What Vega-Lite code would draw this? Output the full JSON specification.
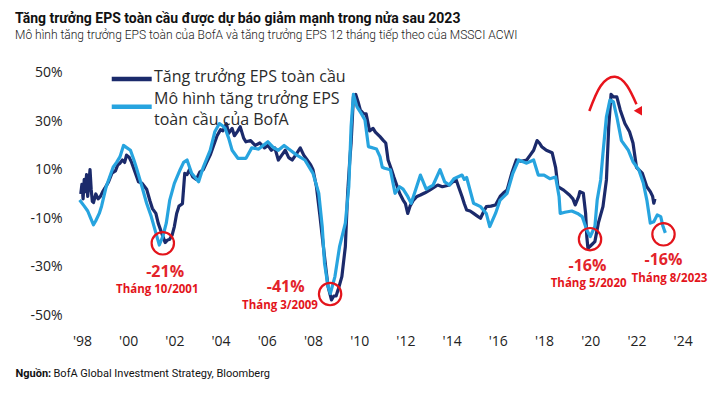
{
  "$schema": "https://vega.github.io/schema/vega-lite/v6.json",
  "width": 625,
  "height": 272,
  "autosize": {"type": "none"},
  "padding": {"left": 75, "top": 58, "right": 22, "bottom": 64},
  "background": "white",
  "title": {
    "text": "Tăng trưởng EPS toàn cầu được dự báo giảm mạnh trong nửa sau 2023",
    "subtitle": "Mô hình tăng trưởng EPS toàn của BofA và tăng trưởng EPS 12 tháng tiếp theo của MSSCI ACWI",
    "anchor": "start",
    "frame": "group",
    "dx": -60,
    "offset": 17,
    "font": "Roboto",
    "fontSize": 14,
    "fontWeight": "bold",
    "color": "#111",
    "subtitleFont": "Roboto",
    "subtitleFontSize": 12,
    "subtitleFontWeight": 300,
    "subtitleColor": "#1a1a1a",
    "subtitlePadding": 4
  },
  "config": {
    "view": {"stroke": null},
    "axis": {"grid": false, "domain": false, "ticks": false, "tickSize": 0}
  },
  "datasets": {
    "eps": [
      {"year": 1997.95, "value": 0, "series": "Tăng trưởng EPS toàn cầu"},
      {"year": 1998.0, "value": 4, "series": "Tăng trưởng EPS toàn cầu"},
      {"year": 1998.05, "value": -2, "series": "Tăng trưởng EPS toàn cầu"},
      {"year": 1998.1, "value": 6, "series": "Tăng trưởng EPS toàn cầu"},
      {"year": 1998.15, "value": 1, "series": "Tăng trưởng EPS toàn cầu"},
      {"year": 1998.2, "value": 8, "series": "Tăng trưởng EPS toàn cầu"},
      {"year": 1998.25, "value": -1, "series": "Tăng trưởng EPS toàn cầu"},
      {"year": 1998.35, "value": 10, "series": "Tăng trưởng EPS toàn cầu"},
      {"year": 1998.4, "value": 2, "series": "Tăng trưởng EPS toàn cầu"},
      {"year": 1998.45, "value": -3, "series": "Tăng trưởng EPS toàn cầu"},
      {"year": 1998.5, "value": -3.5, "series": "Tăng trưởng EPS toàn cầu"},
      {"year": 1998.6, "value": 0, "series": "Tăng trưởng EPS toàn cầu"},
      {"year": 1998.7, "value": -2, "series": "Tăng trưởng EPS toàn cầu"},
      {"year": 1998.8, "value": -1, "series": "Tăng trưởng EPS toàn cầu"},
      {"year": 1998.9, "value": 1, "series": "Tăng trưởng EPS toàn cầu"},
      {"year": 1999.0, "value": 2.5, "series": "Tăng trưởng EPS toàn cầu"},
      {"year": 1999.15, "value": 5, "series": "Tăng trưởng EPS toàn cầu"},
      {"year": 1999.3, "value": 8.6, "series": "Tăng trưởng EPS toàn cầu"},
      {"year": 1999.45, "value": 9.5, "series": "Tăng trưởng EPS toàn cầu"},
      {"year": 1999.55, "value": 12, "series": "Tăng trưởng EPS toàn cầu"},
      {"year": 1999.65, "value": 12.7, "series": "Tăng trưởng EPS toàn cầu"},
      {"year": 1999.75, "value": 14, "series": "Tăng trưởng EPS toàn cầu"},
      {"year": 1999.85, "value": 13, "series": "Tăng trưởng EPS toàn cầu"},
      {"year": 1999.93, "value": 16, "series": "Tăng trưởng EPS toàn cầu"},
      {"year": 2000.05, "value": 15, "series": "Tăng trưởng EPS toàn cầu"},
      {"year": 2000.15, "value": 13, "series": "Tăng trưởng EPS toàn cầu"},
      {"year": 2000.3, "value": 9, "series": "Tăng trưởng EPS toàn cầu"},
      {"year": 2000.45, "value": 5, "series": "Tăng trưởng EPS toàn cầu"},
      {"year": 2000.6, "value": 4.4, "series": "Tăng trưởng EPS toàn cầu"},
      {"year": 2000.8, "value": 2, "series": "Tăng trưởng EPS toàn cầu"},
      {"year": 2000.95, "value": -3, "series": "Tăng trưởng EPS toàn cầu"},
      {"year": 2001.05, "value": -6, "series": "Tăng trưởng EPS toàn cầu"},
      {"year": 2001.2, "value": -8, "series": "Tăng trưởng EPS toàn cầu"},
      {"year": 2001.3, "value": -12, "series": "Tăng trưởng EPS toàn cầu"},
      {"year": 2001.45, "value": -16, "series": "Tăng trưởng EPS toàn cầu"},
      {"year": 2001.6, "value": -20, "series": "Tăng trưởng EPS toàn cầu"},
      {"year": 2001.7, "value": -19, "series": "Tăng trưởng EPS toàn cầu"},
      {"year": 2001.8, "value": -18.6, "series": "Tăng trưởng EPS toàn cầu"},
      {"year": 2001.9, "value": -17, "series": "Tăng trưởng EPS toàn cầu"},
      {"year": 2002.0, "value": -13.4, "series": "Tăng trưởng EPS toàn cầu"},
      {"year": 2002.1, "value": -8, "series": "Tăng trưởng EPS toàn cầu"},
      {"year": 2002.2, "value": -5, "series": "Tăng trưởng EPS toàn cầu"},
      {"year": 2002.35, "value": -4, "series": "Tăng trưởng EPS toàn cầu"},
      {"year": 2002.45, "value": 8.5, "series": "Tăng trưởng EPS toàn cầu"},
      {"year": 2002.55, "value": 8, "series": "Tăng trưởng EPS toàn cầu"},
      {"year": 2002.65, "value": 10, "series": "Tăng trưởng EPS toàn cầu"},
      {"year": 2002.8, "value": 7, "series": "Tăng trưởng EPS toàn cầu"},
      {"year": 2002.95, "value": 6, "series": "Tăng trưởng EPS toàn cầu"},
      {"year": 2003.1, "value": 9, "series": "Tăng trưởng EPS toàn cầu"},
      {"year": 2003.25, "value": 10, "series": "Tăng trưởng EPS toàn cầu"},
      {"year": 2003.4, "value": 13, "series": "Tăng trưởng EPS toàn cầu"},
      {"year": 2003.55, "value": 16, "series": "Tăng trưởng EPS toàn cầu"},
      {"year": 2003.7, "value": 20, "series": "Tăng trưởng EPS toàn cầu"},
      {"year": 2003.85, "value": 24, "series": "Tăng trưởng EPS toàn cầu"},
      {"year": 2004.0, "value": 26.5, "series": "Tăng trưởng EPS toàn cầu"},
      {"year": 2004.1, "value": 26, "series": "Tăng trưởng EPS toàn cầu"},
      {"year": 2004.25, "value": 29, "series": "Tăng trưởng EPS toàn cầu"},
      {"year": 2004.35, "value": 25, "series": "Tăng trưởng EPS toàn cầu"},
      {"year": 2004.5, "value": 27, "series": "Tăng trưởng EPS toàn cầu"},
      {"year": 2004.6, "value": 24, "series": "Tăng trưởng EPS toàn cầu"},
      {"year": 2004.75, "value": 26, "series": "Tăng trưởng EPS toàn cầu"},
      {"year": 2004.85, "value": 27.7, "series": "Tăng trưởng EPS toàn cầu"},
      {"year": 2005.0, "value": 23, "series": "Tăng trưởng EPS toàn cầu"},
      {"year": 2005.1, "value": 21.5, "series": "Tăng trưởng EPS toàn cầu"},
      {"year": 2005.3, "value": 22, "series": "Tăng trưởng EPS toàn cầu"},
      {"year": 2005.5, "value": 20, "series": "Tăng trưởng EPS toàn cầu"},
      {"year": 2005.7, "value": 21, "series": "Tăng trưởng EPS toàn cầu"},
      {"year": 2005.9, "value": 19, "series": "Tăng trưởng EPS toàn cầu"},
      {"year": 2006.05, "value": 20, "series": "Tăng trưởng EPS toàn cầu"},
      {"year": 2006.2, "value": 18, "series": "Tăng trưởng EPS toàn cầu"},
      {"year": 2006.35, "value": 19, "series": "Tăng trưởng EPS toàn cầu"},
      {"year": 2006.5, "value": 14, "series": "Tăng trưởng EPS toàn cầu"},
      {"year": 2006.65, "value": 16, "series": "Tăng trưởng EPS toàn cầu"},
      {"year": 2006.8, "value": 18, "series": "Tăng trưởng EPS toàn cầu"},
      {"year": 2006.95, "value": 15, "series": "Tăng trưởng EPS toàn cầu"},
      {"year": 2007.1, "value": 14, "series": "Tăng trưởng EPS toàn cầu"},
      {"year": 2007.25, "value": 16, "series": "Tăng trưởng EPS toàn cầu"},
      {"year": 2007.45, "value": 19, "series": "Tăng trưởng EPS toàn cầu"},
      {"year": 2007.6, "value": 16, "series": "Tăng trưởng EPS toàn cầu"},
      {"year": 2007.75, "value": 14, "series": "Tăng trưởng EPS toàn cầu"},
      {"year": 2007.9, "value": 12, "series": "Tăng trưởng EPS toàn cầu"},
      {"year": 2008.0, "value": 10, "series": "Tăng trưởng EPS toàn cầu"},
      {"year": 2008.15, "value": 3, "series": "Tăng trưởng EPS toàn cầu"},
      {"year": 2008.3, "value": -9, "series": "Tăng trưởng EPS toàn cầu"},
      {"year": 2008.45, "value": -21.7, "series": "Tăng trưởng EPS toàn cầu"},
      {"year": 2008.55, "value": -30, "series": "Tăng trưởng EPS toàn cầu"},
      {"year": 2008.65, "value": -38, "series": "Tăng trưởng EPS toàn cầu"},
      {"year": 2008.8, "value": -43.6, "series": "Tăng trưởng EPS toàn cầu"},
      {"year": 2008.9, "value": -42, "series": "Tăng trưởng EPS toàn cầu"},
      {"year": 2009.0, "value": -42, "series": "Tăng trưởng EPS toàn cầu"},
      {"year": 2009.1, "value": -39, "series": "Tăng trưởng EPS toàn cầu"},
      {"year": 2009.25, "value": -34, "series": "Tăng trưởng EPS toàn cầu"},
      {"year": 2009.4, "value": -21.7, "series": "Tăng trưởng EPS toàn cầu"},
      {"year": 2009.5, "value": 0.3, "series": "Tăng trưởng EPS toàn cầu"},
      {"year": 2009.6, "value": 15, "series": "Tăng trưởng EPS toàn cầu"},
      {"year": 2009.65, "value": 21, "series": "Tăng trưởng EPS toàn cầu"},
      {"year": 2009.75, "value": 40, "series": "Tăng trưởng EPS toàn cầu"},
      {"year": 2009.85, "value": 41, "series": "Tăng trưởng EPS toàn cầu"},
      {"year": 2009.95, "value": 38, "series": "Tăng trưởng EPS toàn cầu"},
      {"year": 2010.05, "value": 34.5, "series": "Tăng trưởng EPS toàn cầu"},
      {"year": 2010.2, "value": 33, "series": "Tăng trưởng EPS toàn cầu"},
      {"year": 2010.3, "value": 33, "series": "Tăng trưởng EPS toàn cầu"},
      {"year": 2010.45, "value": 26, "series": "Tăng trưởng EPS toàn cầu"},
      {"year": 2010.6, "value": 27, "series": "Tăng trưởng EPS toàn cầu"},
      {"year": 2010.7, "value": 25.5, "series": "Tăng trưởng EPS toàn cầu"},
      {"year": 2010.9, "value": 23.6, "series": "Tăng trưởng EPS toàn cầu"},
      {"year": 2011.05, "value": 22, "series": "Tăng trưởng EPS toàn cầu"},
      {"year": 2011.15, "value": 21, "series": "Tăng trưởng EPS toàn cầu"},
      {"year": 2011.25, "value": 14, "series": "Tăng trưởng EPS toàn cầu"},
      {"year": 2011.4, "value": 10, "series": "Tăng trưởng EPS toàn cầu"},
      {"year": 2011.5, "value": 7, "series": "Tăng trưởng EPS toàn cầu"},
      {"year": 2011.65, "value": 3, "series": "Tăng trưởng EPS toàn cầu"},
      {"year": 2011.75, "value": 0.3, "series": "Tăng trưởng EPS toàn cầu"},
      {"year": 2011.9, "value": -2.5, "series": "Tăng trưởng EPS toàn cầu"},
      {"year": 2012.0, "value": -4, "series": "Tăng trưởng EPS toàn cầu"},
      {"year": 2012.1, "value": -8, "series": "Tăng trưởng EPS toàn cầu"},
      {"year": 2012.2, "value": -5, "series": "Tăng trưởng EPS toàn cầu"},
      {"year": 2012.35, "value": -2.5, "series": "Tăng trưởng EPS toàn cầu"},
      {"year": 2012.5, "value": -1, "series": "Tăng trưởng EPS toàn cầu"},
      {"year": 2012.65, "value": -0.4, "series": "Tăng trưởng EPS toàn cầu"},
      {"year": 2012.85, "value": 0.5, "series": "Tăng trưởng EPS toàn cầu"},
      {"year": 2013.05, "value": 1.6, "series": "Tăng trưởng EPS toàn cầu"},
      {"year": 2013.2, "value": 2.5, "series": "Tăng trưởng EPS toàn cầu"},
      {"year": 2013.4, "value": 3.7, "series": "Tăng trưởng EPS toàn cầu"},
      {"year": 2013.6, "value": 3, "series": "Tăng trưởng EPS toàn cầu"},
      {"year": 2013.9, "value": 3.7, "series": "Tăng trưởng EPS toàn cầu"},
      {"year": 2014.05, "value": 5, "series": "Tăng trưởng EPS toàn cầu"},
      {"year": 2014.2, "value": 5.8, "series": "Tăng trưởng EPS toàn cầu"},
      {"year": 2014.3, "value": 3, "series": "Tăng trưởng EPS toàn cầu"},
      {"year": 2014.45, "value": -1, "series": "Tăng trưởng EPS toàn cầu"},
      {"year": 2014.55, "value": -4, "series": "Tăng trưởng EPS toàn cầu"},
      {"year": 2014.65, "value": -6.6, "series": "Tăng trưởng EPS toàn cầu"},
      {"year": 2014.8, "value": -7, "series": "Tăng trưởng EPS toàn cầu"},
      {"year": 2014.95, "value": -8, "series": "Tăng trưởng EPS toàn cầu"},
      {"year": 2015.1, "value": -9, "series": "Tăng trưởng EPS toàn cầu"},
      {"year": 2015.25, "value": -10, "series": "Tăng trưởng EPS toàn cầu"},
      {"year": 2015.4, "value": -7, "series": "Tăng trưởng EPS toàn cầu"},
      {"year": 2015.5, "value": -5.2, "series": "Tăng trưởng EPS toàn cầu"},
      {"year": 2015.7, "value": -5, "series": "Tăng trưởng EPS toàn cầu"},
      {"year": 2015.9, "value": -4.5, "series": "Tăng trưởng EPS toàn cầu"},
      {"year": 2016.1, "value": -1, "series": "Tăng trưởng EPS toàn cầu"},
      {"year": 2016.25, "value": 0.5, "series": "Tăng trưởng EPS toàn cầu"},
      {"year": 2016.4, "value": 1.6, "series": "Tăng trưởng EPS toàn cầu"},
      {"year": 2016.6, "value": 8.5, "series": "Tăng trưởng EPS toàn cầu"},
      {"year": 2016.8, "value": 14, "series": "Tăng trưởng EPS toàn cầu"},
      {"year": 2017.0, "value": 13.5, "series": "Tăng trưởng EPS toàn cầu"},
      {"year": 2017.25, "value": 14, "series": "Tăng trưởng EPS toàn cầu"},
      {"year": 2017.4, "value": 16, "series": "Tăng trưởng EPS toàn cầu"},
      {"year": 2017.55, "value": 18, "series": "Tăng trưởng EPS toàn cầu"},
      {"year": 2017.7, "value": 22, "series": "Tăng trưởng EPS toàn cầu"},
      {"year": 2017.8, "value": 21, "series": "Tăng trưởng EPS toàn cầu"},
      {"year": 2017.9, "value": 19.5, "series": "Tăng trưởng EPS toàn cầu"},
      {"year": 2018.1, "value": 18, "series": "Tăng trưởng EPS toàn cầu"},
      {"year": 2018.35, "value": 17, "series": "Tăng trưởng EPS toàn cầu"},
      {"year": 2018.5, "value": 11, "series": "Tăng trưởng EPS toàn cầu"},
      {"year": 2018.6, "value": 3, "series": "Tăng trưởng EPS toàn cầu"},
      {"year": 2018.85, "value": 1.6, "series": "Tăng trưởng EPS toàn cầu"},
      {"year": 2019.1, "value": -0.4, "series": "Tăng trưởng EPS toàn cầu"},
      {"year": 2019.25, "value": -2, "series": "Tăng trưởng EPS toàn cầu"},
      {"year": 2019.35, "value": -4.5, "series": "Tăng trưởng EPS toàn cầu"},
      {"year": 2019.5, "value": -1, "series": "Tăng trưởng EPS toàn cầu"},
      {"year": 2019.55, "value": 1, "series": "Tăng trưởng EPS toàn cầu"},
      {"year": 2019.7, "value": 0.3, "series": "Tăng trưởng EPS toàn cầu"},
      {"year": 2019.8, "value": -8, "series": "Tăng trưởng EPS toàn cầu"},
      {"year": 2019.85, "value": -17.5, "series": "Tăng trưởng EPS toàn cầu"},
      {"year": 2019.9, "value": -22.4, "series": "Tăng trưởng EPS toàn cầu"},
      {"year": 2020.05, "value": -21, "series": "Tăng trưởng EPS toàn cầu"},
      {"year": 2020.2, "value": -19.6, "series": "Tăng trưởng EPS toàn cầu"},
      {"year": 2020.35, "value": -12, "series": "Tăng trưởng EPS toàn cầu"},
      {"year": 2020.55, "value": -5.2, "series": "Tăng trưởng EPS toàn cầu"},
      {"year": 2020.7, "value": 5.8, "series": "Tăng trưởng EPS toàn cầu"},
      {"year": 2020.8, "value": 27.7, "series": "Tăng trưởng EPS toàn cầu"},
      {"year": 2020.9, "value": 41, "series": "Tăng trưởng EPS toàn cầu"},
      {"year": 2021.0, "value": 40, "series": "Tăng trưởng EPS toàn cầu"},
      {"year": 2021.15, "value": 40, "series": "Tăng trưởng EPS toàn cầu"},
      {"year": 2021.3, "value": 34.5, "series": "Tăng trưởng EPS toàn cầu"},
      {"year": 2021.5, "value": 29, "series": "Tăng trưởng EPS toàn cầu"},
      {"year": 2021.7, "value": 25.6, "series": "Tăng trưởng EPS toàn cầu"},
      {"year": 2021.85, "value": 21, "series": "Tăng trưởng EPS toàn cầu"},
      {"year": 2022.0, "value": 11, "series": "Tăng trưởng EPS toàn cầu"},
      {"year": 2022.25, "value": 8.6, "series": "Tăng trưởng EPS toàn cầu"},
      {"year": 2022.45, "value": 3, "series": "Tăng trưởng EPS toàn cầu"},
      {"year": 2022.6, "value": 1, "series": "Tăng trưởng EPS toàn cầu"},
      {"year": 2022.7, "value": -1, "series": "Tăng trưởng EPS toàn cầu"},
      {"year": 2022.75, "value": -3.8, "series": "Tăng trưởng EPS toàn cầu"},
      {"year": 2022.8, "value": -2, "series": "Tăng trưởng EPS toàn cầu"},
      {"year": 1997.9, "value": -2.5, "series": "Mô hình tăng trưởng EPS toàn cầu của BofA"},
      {"year": 1998.1, "value": -5, "series": "Mô hình tăng trưởng EPS toàn cầu của BofA"},
      {"year": 1998.25, "value": -7, "series": "Mô hình tăng trưởng EPS toàn cầu của BofA"},
      {"year": 1998.35, "value": -9.3, "series": "Mô hình tăng trưởng EPS toàn cầu của BofA"},
      {"year": 1998.5, "value": -12.7, "series": "Mô hình tăng trưởng EPS toàn cầu của BofA"},
      {"year": 1998.6, "value": -11, "series": "Mô hình tăng trưởng EPS toàn cầu của BofA"},
      {"year": 1998.75, "value": -8, "series": "Mô hình tăng trưởng EPS toàn cầu của BofA"},
      {"year": 1998.85, "value": -5, "series": "Mô hình tăng trưởng EPS toàn cầu của BofA"},
      {"year": 1999.05, "value": 3, "series": "Mô hình tăng trưởng EPS toàn cầu của BofA"},
      {"year": 1999.2, "value": 7, "series": "Mô hình tăng trưởng EPS toàn cầu của BofA"},
      {"year": 1999.35, "value": 11, "series": "Mô hình tăng trưởng EPS toàn cầu của BofA"},
      {"year": 1999.5, "value": 13, "series": "Mô hình tăng trưởng EPS toàn cầu của BofA"},
      {"year": 1999.65, "value": 15.4, "series": "Mô hình tăng trưởng EPS toàn cầu của BofA"},
      {"year": 1999.8, "value": 20, "series": "Mô hình tăng trưởng EPS toàn cầu của BofA"},
      {"year": 1999.95, "value": 19, "series": "Mô hình tăng trưởng EPS toàn cầu của BofA"},
      {"year": 2000.1, "value": 18, "series": "Mô hình tăng trưởng EPS toàn cầu của BofA"},
      {"year": 2000.25, "value": 14, "series": "Mô hình tăng trưởng EPS toàn cầu của BofA"},
      {"year": 2000.35, "value": 11, "series": "Mô hình tăng trưởng EPS toàn cầu của BofA"},
      {"year": 2000.6, "value": 3, "series": "Mô hình tăng trưởng EPS toàn cầu của BofA"},
      {"year": 2000.8, "value": -3.8, "series": "Mô hình tăng trưởng EPS toàn cầu của BofA"},
      {"year": 2001.0, "value": -9.3, "series": "Mô hình tăng trưởng EPS toàn cầu của BofA"},
      {"year": 2001.2, "value": -16, "series": "Mô hình tăng trưởng EPS toàn cầu của BofA"},
      {"year": 2001.35, "value": -21, "series": "Mô hình tăng trưởng EPS toàn cầu của BofA"},
      {"year": 2001.5, "value": -17.5, "series": "Mô hình tăng trưởng EPS toàn cầu của BofA"},
      {"year": 2001.65, "value": -12, "series": "Mô hình tăng trưởng EPS toàn cầu của BofA"},
      {"year": 2001.8, "value": -2.5, "series": "Mô hình tăng trưởng EPS toàn cầu của BofA"},
      {"year": 2002.0, "value": 4.4, "series": "Mô hình tăng trưởng EPS toàn cầu của BofA"},
      {"year": 2002.25, "value": 10, "series": "Mô hình tăng trưởng EPS toàn cầu của BofA"},
      {"year": 2002.4, "value": 13, "series": "Mô hình tăng trưởng EPS toàn cầu của BofA"},
      {"year": 2002.55, "value": 14, "series": "Mô hình tăng trưởng EPS toàn cầu của BofA"},
      {"year": 2002.75, "value": 8.5, "series": "Mô hình tăng trưởng EPS toàn cầu của BofA"},
      {"year": 2003.05, "value": 5, "series": "Mô hình tăng trưởng EPS toàn cầu của BofA"},
      {"year": 2003.25, "value": 11, "series": "Mô hình tăng trưởng EPS toàn cầu của BofA"},
      {"year": 2003.55, "value": 18, "series": "Mô hình tăng trưởng EPS toàn cầu của BofA"},
      {"year": 2003.75, "value": 25.6, "series": "Mô hình tăng trưởng EPS toàn cầu của BofA"},
      {"year": 2003.95, "value": 29, "series": "Mô hình tăng trưởng EPS toàn cầu của BofA"},
      {"year": 2004.1, "value": 28, "series": "Mô hình tăng trưởng EPS toàn cầu của BofA"},
      {"year": 2004.2, "value": 27, "series": "Mô hình tăng trưởng EPS toàn cầu của BofA"},
      {"year": 2004.35, "value": 23, "series": "Mô hình tăng trưởng EPS toàn cầu của BofA"},
      {"year": 2004.5, "value": 18, "series": "Mô hình tăng trưởng EPS toàn cầu của BofA"},
      {"year": 2004.75, "value": 14.7, "series": "Mô hình tăng trưởng EPS toàn cầu của BofA"},
      {"year": 2005.1, "value": 14.7, "series": "Mô hình tăng trưởng EPS toàn cầu của BofA"},
      {"year": 2005.35, "value": 19, "series": "Mô hình tăng trưởng EPS toàn cầu của BofA"},
      {"year": 2005.65, "value": 18.5, "series": "Mô hình tăng trưởng EPS toàn cầu của BofA"},
      {"year": 2006.05, "value": 21.5, "series": "Mô hình tăng trưởng EPS toàn cầu của BofA"},
      {"year": 2006.3, "value": 19, "series": "Mô hình tăng trưởng EPS toàn cầu của BofA"},
      {"year": 2006.5, "value": 18, "series": "Mô hình tăng trưởng EPS toàn cầu của BofA"},
      {"year": 2006.75, "value": 20, "series": "Mô hình tăng trưởng EPS toàn cầu của BofA"},
      {"year": 2006.95, "value": 18.5, "series": "Mô hình tăng trưởng EPS toàn cầu của BofA"},
      {"year": 2007.3, "value": 16, "series": "Mô hình tăng trưởng EPS toàn cầu của BofA"},
      {"year": 2007.65, "value": 14, "series": "Mô hình tăng trưởng EPS toàn cầu của BofA"},
      {"year": 2008.0, "value": 8.5, "series": "Mô hình tăng trưởng EPS toàn cầu của BofA"},
      {"year": 2008.25, "value": 0.3, "series": "Mô hình tăng trưởng EPS toàn cầu của BofA"},
      {"year": 2008.4, "value": -13.4, "series": "Mô hình tăng trưởng EPS toàn cầu của BofA"},
      {"year": 2008.5, "value": -28.5, "series": "Mô hình tăng trưởng EPS toàn cầu của BofA"},
      {"year": 2008.65, "value": -38, "series": "Mô hình tăng trưởng EPS toàn cầu của BofA"},
      {"year": 2008.75, "value": -41, "series": "Mô hình tăng trưởng EPS toàn cầu của BofA"},
      {"year": 2008.95, "value": -34, "series": "Mô hình tăng trưởng EPS toàn cầu của BofA"},
      {"year": 2009.15, "value": -21.7, "series": "Mô hình tăng trưởng EPS toàn cầu của BofA"},
      {"year": 2009.4, "value": -12, "series": "Mô hình tăng trưởng EPS toàn cầu của BofA"},
      {"year": 2009.55, "value": 3, "series": "Mô hình tăng trưởng EPS toàn cầu của BofA"},
      {"year": 2009.65, "value": 27.7, "series": "Mô hình tăng trưởng EPS toàn cầu của BofA"},
      {"year": 2009.75, "value": 41, "series": "Mô hình tăng trưởng EPS toàn cầu của BofA"},
      {"year": 2009.9, "value": 36, "series": "Mô hình tăng trưởng EPS toàn cầu của BofA"},
      {"year": 2010.1, "value": 33, "series": "Mô hình tăng trưởng EPS toàn cầu của BofA"},
      {"year": 2010.25, "value": 30.5, "series": "Mô hình tăng trưởng EPS toàn cầu của BofA"},
      {"year": 2010.4, "value": 19.5, "series": "Mô hình tăng trưởng EPS toàn cầu của BofA"},
      {"year": 2010.75, "value": 18.5, "series": "Mô hình tăng trưởng EPS toàn cầu của BofA"},
      {"year": 2010.9, "value": 15.4, "series": "Mô hình tăng trưởng EPS toàn cầu của BofA"},
      {"year": 2011.0, "value": 11, "series": "Mô hình tăng trưởng EPS toàn cầu của BofA"},
      {"year": 2011.1, "value": 10.6, "series": "Mô hình tăng trưởng EPS toàn cầu của BofA"},
      {"year": 2011.35, "value": 10, "series": "Mô hình tăng trưởng EPS toàn cầu của BofA"},
      {"year": 2011.55, "value": 0.3, "series": "Mô hình tăng trưởng EPS toàn cầu của BofA"},
      {"year": 2011.75, "value": 3, "series": "Mô hình tăng trưởng EPS toàn cầu của BofA"},
      {"year": 2011.9, "value": 2, "series": "Mô hình tăng trưởng EPS toàn cầu của BofA"},
      {"year": 2012.1, "value": -1, "series": "Mô hình tăng trưởng EPS toàn cầu của BofA"},
      {"year": 2012.25, "value": -3.8, "series": "Mô hình tăng trưởng EPS toàn cầu của BofA"},
      {"year": 2012.45, "value": 2, "series": "Mô hình tăng trưởng EPS toàn cầu của BofA"},
      {"year": 2012.65, "value": 7.8, "series": "Mô hình tăng trưởng EPS toàn cầu của BofA"},
      {"year": 2012.9, "value": 2, "series": "Mô hình tăng trưởng EPS toàn cầu của BofA"},
      {"year": 2013.2, "value": 3.7, "series": "Mô hình tăng trưởng EPS toàn cầu của BofA"},
      {"year": 2013.5, "value": 10, "series": "Mô hình tăng trưởng EPS toàn cầu của BofA"},
      {"year": 2013.7, "value": 5, "series": "Mô hình tăng trưởng EPS toàn cầu của BofA"},
      {"year": 2013.9, "value": 3.7, "series": "Mô hình tăng trưởng EPS toàn cầu của BofA"},
      {"year": 2014.1, "value": 6.3, "series": "Mô hình tăng trưởng EPS toàn cầu của BofA"},
      {"year": 2014.45, "value": 7.8, "series": "Mô hình tăng trưởng EPS toàn cầu của BofA"},
      {"year": 2014.55, "value": 6, "series": "Mô hình tăng trưởng EPS toàn cầu của BofA"},
      {"year": 2014.65, "value": 6.8, "series": "Mô hình tăng trưởng EPS toàn cầu của BofA"},
      {"year": 2014.95, "value": -3.8, "series": "Mô hình tăng trưởng EPS toàn cầu của BofA"},
      {"year": 2015.25, "value": -5.2, "series": "Mô hình tăng trưởng EPS toàn cầu của BofA"},
      {"year": 2015.5, "value": -8, "series": "Mô hình tăng trưởng EPS toàn cầu của BofA"},
      {"year": 2015.65, "value": -13.4, "series": "Mô hình tăng trưởng EPS toàn cầu của BofA"},
      {"year": 2015.9, "value": -8, "series": "Mô hình tăng trưởng EPS toàn cầu của BofA"},
      {"year": 2016.1, "value": -2.5, "series": "Mô hình tăng trưởng EPS toàn cầu của BofA"},
      {"year": 2016.4, "value": 0.3, "series": "Mô hình tăng trưởng EPS toàn cầu của BofA"},
      {"year": 2016.65, "value": 8.5, "series": "Mô hình tăng trưởng EPS toàn cầu của BofA"},
      {"year": 2016.9, "value": 14, "series": "Mô hình tăng trưởng EPS toàn cầu của BofA"},
      {"year": 2017.25, "value": 12.7, "series": "Mô hình tăng trưởng EPS toàn cầu của BofA"},
      {"year": 2017.55, "value": 14, "series": "Mô hình tăng trưởng EPS toàn cầu của BofA"},
      {"year": 2017.75, "value": 7.8, "series": "Mô hình tăng trưởng EPS toàn cầu của BofA"},
      {"year": 2018.0, "value": 7.8, "series": "Mô hình tăng trưởng EPS toàn cầu của BofA"},
      {"year": 2018.25, "value": 6.3, "series": "Mô hình tăng trưởng EPS toàn cầu của BofA"},
      {"year": 2018.5, "value": 7, "series": "Mô hình tăng trưởng EPS toàn cầu của BofA"},
      {"year": 2018.65, "value": -1, "series": "Mô hình tăng trưởng EPS toàn cầu của BofA"},
      {"year": 2018.7, "value": -8, "series": "Mô hình tăng trưởng EPS toàn cầu của BofA"},
      {"year": 2018.9, "value": -7.5, "series": "Mô hình tăng trưởng EPS toàn cầu của BofA"},
      {"year": 2019.2, "value": -7, "series": "Mô hình tăng trưởng EPS toàn cầu của BofA"},
      {"year": 2019.45, "value": -8, "series": "Mô hình tăng trưởng EPS toàn cầu của BofA"},
      {"year": 2019.65, "value": -9.3, "series": "Mô hình tăng trưởng EPS toàn cầu của BofA"},
      {"year": 2019.85, "value": -14.8, "series": "Mô hình tăng trưởng EPS toàn cầu của BofA"},
      {"year": 2020.0, "value": -17.5, "series": "Mô hình tăng trưởng EPS toàn cầu của BofA"},
      {"year": 2020.2, "value": -13.4, "series": "Mô hình tăng trưởng EPS toàn cầu của BofA"},
      {"year": 2020.3, "value": -2.5, "series": "Mô hình tăng trưởng EPS toàn cầu của BofA"},
      {"year": 2020.45, "value": 5.8, "series": "Mô hình tăng trưởng EPS toàn cầu của BofA"},
      {"year": 2020.55, "value": 16.7, "series": "Mô hình tăng trưởng EPS toàn cầu của BofA"},
      {"year": 2020.7, "value": 31.8, "series": "Mô hình tăng trưởng EPS toàn cầu của BofA"},
      {"year": 2020.85, "value": 38.7, "series": "Mô hình tăng trưởng EPS toàn cầu của BofA"},
      {"year": 2021.0, "value": 38, "series": "Mô hình tăng trưởng EPS toàn cầu của BofA"},
      {"year": 2021.15, "value": 31.8, "series": "Mô hình tăng trưởng EPS toàn cầu của BofA"},
      {"year": 2021.35, "value": 22, "series": "Mô hình tăng trưởng EPS toàn cầu của BofA"},
      {"year": 2021.65, "value": 18, "series": "Mô hình tăng trưởng EPS toàn cầu của BofA"},
      {"year": 2021.85, "value": 13.3, "series": "Mô hình tăng trưởng EPS toàn cầu của BofA"},
      {"year": 2022.1, "value": 10, "series": "Mô hình tăng trưởng EPS toàn cầu của BofA"},
      {"year": 2022.3, "value": 4.4, "series": "Mô hình tăng trưởng EPS toàn cầu của BofA"},
      {"year": 2022.45, "value": -2.5, "series": "Mô hình tăng trưởng EPS toàn cầu của BofA"},
      {"year": 2022.6, "value": -12, "series": "Mô hình tăng trưởng EPS toàn cầu của BofA"},
      {"year": 2022.75, "value": -11.4, "series": "Mô hình tăng trưởng EPS toàn cầu của BofA"},
      {"year": 2022.9, "value": -8.6, "series": "Mô hình tăng trưởng EPS toàn cầu của BofA"},
      {"year": 2023.05, "value": -9.3, "series": "Mô hình tăng trưởng EPS toàn cầu của BofA"},
      {"year": 2023.15, "value": -13.4, "series": "Mô hình tăng trưởng EPS toàn cầu của BofA"},
      {"year": 2023.25, "value": -16, "series": "Mô hình tăng trưởng EPS toàn cầu của BofA"}
    ],
    "legend": [
      {"series": "Tăng trưởng EPS toàn cầu", "line1": "Tăng trưởng EPS toàn cầu", "line2": ""},
      {"series": "Mô hình tăng trưởng EPS toàn cầu của BofA", "line1": "Mô hình tăng trưởng EPS", "line2": "toàn cầu của BofA"}
    ],
    "notes": [
      {"year": 2001.5, "value": -20.3, "pct": "-21%", "pct_year": 2001.6, "pct_value": -32, "month": "Tháng 10/2001", "month_year": 2001.26, "month_value": -39.4},
      {"year": 2008.74, "value": -41.2, "pct": "-41%", "pct_year": 2006.82, "pct_value": -38.4, "month": "Tháng 3/2009", "month_year": 2006.57, "month_value": -46.2},
      {"year": 2019.99, "value": -18.6, "pct": "-16%", "pct_year": 2019.88, "pct_value": -29.6, "month": "Tháng 5/2020", "month_year": 2019.93, "month_value": -37.0},
      {"year": 2023.17, "value": -16.6, "pct": "-16%", "pct_year": 2023.17, "pct_value": -27.0, "month": "Tháng 8/2023", "month_year": 2023.43, "month_value": -35.0}
    ],
    "arc": [
      {"year": 2019.96, "value": 34.2},
      {"year": 2020.45, "value": 44.5},
      {"year": 2021.07, "value": 48.3},
      {"year": 2021.6, "value": 44.5},
      {"year": 2022.0, "value": 37}
    ],
    "head": [
      {"year": 2022.12, "value": 34.3}
    ]
  },
  "layer": [
    {
      "mark": {"type": "rule", "color": "#222", "strokeWidth": 1.5},
      "encoding": {
        "x": {"datum": 1997.85, "type": "quantitative", "scale": {"domain": [1997.7, 2024.75], "nice": false, "zero": false}},
        "x2": {"datum": 2024.5},
        "y": {"datum": 0, "type": "quantitative"}
      }
    },
    {
      "data": {"name": "eps"},
      "mark": {"type": "line", "strokeWidth": 3.2, "strokeJoin": "round"},
      "encoding": {
        "x": {
          "field": "year", "type": "quantitative",
          "scale": {"domain": [1997.7, 2024.75], "nice": false, "zero": false},
          "axis": {
            "values": [1998, 2000, 2002, 2004, 2006, 2008, 2010, 2012, 2014, 2016, 2018, 2020, 2022, 2024],
            "labelExpr": "\"'\" + substring(toString(datum.value), 2, 4)",
            "labelFont": "Open Sans", "labelFontSize": 14, "labelColor": "#222", "labelPadding": 4,
            "labelFlush": false,
            "title": "Nguồn:", "titleFont": "Roboto", "titleFontSize": 11, "titleFontWeight": "bold", "titleColor": "#111",
            "titleAlign": "left", "titleBaseline": "middle", "titleX": -60, "titleY": 43
          }
        },
        "y": {
          "field": "value", "type": "quantitative",
          "scale": {"domain": [-56, 56], "nice": false, "zero": false},
          "axis": {
            "values": [50, 30, 10, -10, -30, -50],
            "labelExpr": "datum.value + '%'",
            "labelFont": "Open Sans", "labelFontSize": 14, "labelColor": "#222", "labelPadding": 13,
            "title": "BofA Global Investment Strategy, Bloomberg", "titleFont": "Roboto", "titleFontSize": 11, "titleFontWeight": "normal", "titleColor": "#111",
            "titleAngle": 0, "titleAlign": "left", "titleBaseline": "middle", "titleX": -22, "titleY": 315
          }
        },
        "color": {
          "field": "series", "type": "nominal",
          "scale": {"domain": ["Tăng trưởng EPS toàn cầu", "Mô hình tăng trưởng EPS toàn cầu của BofA"], "range": ["#1b2a6b", "#27a4df"]},
          "legend": null
        },
        "order": {"field": "year", "type": "quantitative"}
      }
    },
    {
      "data": {"name": "legend"},
      "transform": [{"filter": "datum.line2 == ''"}],
      "mark": {"type": "rule", "strokeWidth": 4.5},
      "encoding": {
        "x": {"datum": 1999.29, "type": "quantitative"},
        "x2": {"datum": 2001.02},
        "y": {"datum": 47.35, "type": "quantitative"},
        "color": {"field": "series", "type": "nominal", "legend": null}
      }
    },
    {
      "data": {"name": "legend"},
      "transform": [{"filter": "datum.line2 != ''"}],
      "mark": {"type": "rule", "strokeWidth": 4.5},
      "encoding": {
        "x": {"datum": 1999.29, "type": "quantitative"},
        "x2": {"datum": 2001.02},
        "y": {"datum": 35.95, "type": "quantitative"},
        "color": {"field": "series", "type": "nominal", "legend": null}
      }
    },
    {
      "data": {"name": "legend"},
      "transform": [{"filter": "datum.line2 == ''"}],
      "mark": {"type": "text", "font": "Open Sans", "fontSize": 16, "color": "#2b2b2b", "align": "left", "baseline": "middle"},
      "encoding": {
        "x": {"datum": 2001.12, "type": "quantitative"},
        "y": {"datum": 48.18, "type": "quantitative"},
        "text": {"field": "line1"}
      }
    },
    {
      "data": {"name": "legend"},
      "transform": [{"filter": "datum.line2 != ''"}],
      "mark": {"type": "text", "font": "Open Sans", "fontSize": 16, "color": "#2b2b2b", "align": "left", "baseline": "middle"},
      "encoding": {
        "x": {"datum": 2001.12, "type": "quantitative"},
        "y": {"datum": 39.2, "type": "quantitative"},
        "text": {"field": "line1"}
      }
    },
    {
      "data": {"name": "legend"},
      "transform": [{"filter": "datum.line2 != ''"}],
      "mark": {"type": "text", "font": "Open Sans", "fontSize": 16, "color": "#2b2b2b", "align": "left", "baseline": "middle"},
      "encoding": {
        "x": {"datum": 2001.12, "type": "quantitative"},
        "y": {"datum": 30.6, "type": "quantitative"},
        "text": {"field": "line2"}
      }
    },
    {
      "data": {"name": "arc"},
      "mark": {"type": "line", "interpolate": "natural", "color": "#e8141c", "strokeWidth": 2.5},
      "encoding": {
        "x": {"field": "year", "type": "quantitative"},
        "y": {"field": "value", "type": "quantitative"}
      }
    },
    {
      "data": {"name": "head"},
      "mark": {"type": "point", "shape": "triangle", "filled": true, "color": "#e8141c", "size": 90, "angle": 150, "opacity": 1},
      "encoding": {
        "x": {"field": "year", "type": "quantitative"},
        "y": {"field": "value", "type": "quantitative"}
      }
    },
    {
      "data": {"name": "notes"},
      "mark": {"type": "point", "shape": "circle", "filled": false, "color": "#e3141b", "strokeWidth": 2.2, "size": 500, "opacity": 1},
      "encoding": {
        "x": {"field": "year", "type": "quantitative"},
        "y": {"field": "value", "type": "quantitative"}
      }
    },
    {
      "data": {"name": "notes"},
      "mark": {"type": "text", "font": "Open Sans", "fontSize": 16, "fontWeight": "bold", "color": "#e3242b", "align": "center", "baseline": "middle"},
      "encoding": {
        "x": {"field": "pct_year", "type": "quantitative"},
        "y": {"field": "pct_value", "type": "quantitative"},
        "text": {"field": "pct"}
      }
    },
    {
      "data": {"name": "notes"},
      "mark": {"type": "text", "font": "Open Sans", "fontSize": 11.5, "fontWeight": "bold", "color": "#e3141b", "align": "center", "baseline": "middle"},
      "encoding": {
        "x": {"field": "month_year", "type": "quantitative"},
        "y": {"field": "month_value", "type": "quantitative"},
        "text": {"field": "month"}
      }
    }
  ]
}
